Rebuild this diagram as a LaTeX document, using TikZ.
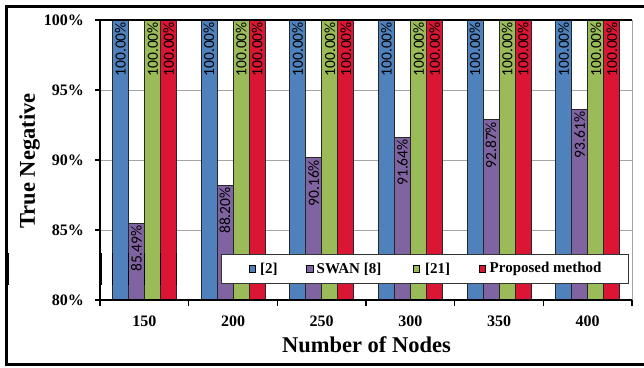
\documentclass[tikz,border=0pt]{standalone}
\usepackage{fontspec}
\setmainfont{Liberation Serif}
\newfontfamily\barfont{Carlito}
\definecolor{cblue}{RGB}{79,129,189}
\definecolor{cpurple}{RGB}{128,100,162}
\definecolor{cgreen}{RGB}{155,187,89}
\definecolor{cred}{RGB}{218,22,52}
\definecolor{gridgray}{RGB}{165,165,165}
\tikzset{
  barbox/.style={draw=black!85,line width=0.9pt},
  blab/.style={font=\barfont\fontsize{15.5}{16}\selectfont,inner sep=0pt,rotate=90,anchor=east},
  ticklab/.style={font=\bfseries\fontsize{16}{18}\selectfont,inner sep=0pt},
  axtitle/.style={font=\bfseries\fontsize{22.5}{24}\selectfont,inner sep=0pt},
  legtext/.style={font=\bfseries\fontsize{15}{16}\selectfont,inner sep=0pt,anchor=west},
  legmark/.style={draw=black,line width=0.8pt},
  gridline/.style={draw=gridgray,line width=0.8pt},
  axisline/.style={draw=black,line width=1.2pt},
}
\begin{document}
\begin{tikzpicture}[x=1pt,y=-1pt]
\useasboundingbox (0,0) rectangle (644,367);
\clip (0,0) rectangle (644,367);
% outer frame
\draw[line width=3pt] (660,6.5) -| (6.5,364.5) -- (660,364.5);
\draw[line width=4.5pt] (7,253) -- (7,285);
% grid
\foreach \v in {90,160,230} { \draw[gridline] (100,\v) -- (632,\v); }
\draw[gridline] (632,20) -- (632,300);
% bars
\foreach \i/\p in {0/85.49,1/88.20,2/90.16,3/91.64,4/92.87,5/93.61} {
  \pgfmathsetmacro\gx{100+\i*88.6667}
  \pgfmathsetmacro\py{20+(100-\p)*14}
  \draw[barbox,fill=cblue] (\gx+12.3,20) rectangle (\gx+28.3,300);
  \draw[barbox,fill=cpurple] (\gx+28.3,\py) rectangle (\gx+44.3,300);
  \draw[barbox,fill=cgreen] (\gx+44.6,20) rectangle (\gx+60.6,300);
  \draw[barbox,fill=cred] (\gx+60.6,20) rectangle (\gx+76.6,300);
  \node[blab] (la\i) at (\gx+20.3,22) {100.00\%};
  \node[blab] (lb\i) at (\gx+36.3,\py+2) {\p\%};
  \node[blab] (lc\i) at (\gx+52.6,22) {100.00\%};
  \node[blab] (ld\i) at (\gx+68.6,22) {100.00\%};
}
% artefact thickening
\foreach \xx in {112.3,128.3,144.6,160.6,176.6} { \draw[line width=1.4pt] (\xx,253) -- (\xx,285); }
\draw[line width=3pt] (100,253) -- (100,285);
% axes
\draw[axisline] (95,20) -- (632,20);
\draw[axisline] (100,20) -- (100,300) -- (632,300);
\foreach \v/\t in {20/100,90/95,160/90,230/85,300/80} {
  \draw[axisline] (95,\v) -- (100,\v);
  \node[ticklab,anchor=east] (y\t) at (84,\v) {\t\%};
}
\foreach \i in {0,...,6} { \draw[axisline] (100+\i*88.6667,300) -- (100+\i*88.6667,305.5); }
\foreach \i/\t in {0/150,1/200,2/250,3/300,4/350,5/400} {
  \node[ticklab] (x\t) at (144.33+\i*88.6667,321) {\t};
}
\node[axtitle] (xt) at (366.5,345) {Number of Nodes};
\node[axtitle,rotate=90] (yt) at (29.5,161) {True Negative};
% legend
\draw[draw=black!80,fill=white,line width=1pt] (221,254) rectangle (628,283);
\draw[legmark,fill=cblue] (249,265.5) rectangle (255.5,272.5);
\node[legtext] (l1) at (260,269) {[2]};
\draw[legmark,fill=cpurple] (306.5,265.5) rectangle (313,272.5);
\node[legtext] (l2) at (316.5,269) {SWAN [8]};
\draw[legmark,fill=cgreen] (413.3,265.5) rectangle (419.8,272.5);
\node[legtext] (l3) at (425,269) {[21]};
\draw[legmark,fill=cred] (479.3,265.5) rectangle (485.8,272.5);
\node[legtext] (l4) at (489.5,269) {Proposed method};
\end{tikzpicture}
\end{document}
